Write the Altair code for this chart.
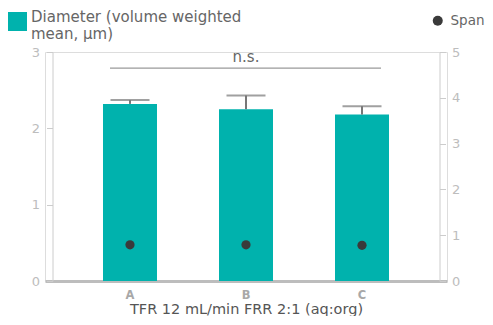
import altair as alt
import pandas as pd

# ---- data ----
groups = ["A", "B", "C"]
diameter = [2.32, 2.25, 2.18]          # volume weighted mean, µm (left axis)
diameter_upper = [2.37, 2.43, 2.29]    # top of error bar
span = [0.79, 0.79, 0.78]              # right axis
left_ticks = [0, 1, 2, 3]
right_ticks = [0, 1, 2, 3, 4, 5]
ns_from = ["A"]
ns_to = ["C"]
ns_level = [2.79]
ns_text_level = [2.93]
ns_mid = ["B"]
ns_label = ["n.s."]
diam_series = "Diameter (volume weighted mean, µm)"
span_series = "Span"
x_title = "TFR 12 mL/min FRR 2:1 (aq:org)"

TEAL = "#00b2ad"
DARK = "#3a3a3a"
FONT = "DejaVu Sans"

df = pd.DataFrame({
    "group": groups,
    "diameter": diameter,
    "upper": diameter_upper,
    "span": span,
    "dseries": [diam_series] * len(groups),
    "sseries": [span_series] * len(groups),
})
ns_df = pd.DataFrame({"x1": ns_from, "x2": ns_to, "lvl": ns_level,
                      "tl": ns_text_level, "mid": ns_mid, "lab": ns_label})

xscale = alt.Scale(domain=groups, paddingInner=0.5345, paddingOuter=0.5)
xaxis = alt.Axis(title=x_title, labelAngle=0, ticks=False, domainColor="#bdbdbd",
                 domainWidth=3, labelColor="#a8a8a8", labelFontWeight="bold",
                 labelFontSize=11.5, labelPadding=8.5, titleColor="#555555",
                 titleFontSize=14.5, titleFontWeight="normal", titlePadding=1.5)
yleft = alt.Scale(domain=[0, 3])
yright = alt.Scale(domain=[0, 5])
laxis = alt.Axis(values=left_ticks, format="d", title=None, offset=-7.5, grid=False,
                 domainColor="#cccccc", tickColor="#cccccc", tickSize=6,
                 labelColor="#bdbdbd", labelFontSize=13, labelPadding=7)
raxis = alt.Axis(values=right_ticks, format="d", title=None, orient="right", offset=-7.5,
                 grid=False, domainColor="#cccccc", tickColor="#cccccc",
                 tickSize=6, labelColor="#bdbdbd", labelFontSize=13, labelPadding=6)

base = alt.Chart(df)

bars = base.mark_bar(size=54).encode(
    x=alt.X("group:N", scale=xscale, axis=xaxis),
    y=alt.Y("diameter:Q", scale=yleft, axis=laxis),
    color=alt.Color("dseries:N", scale=alt.Scale(range=[TEAL]),
                    legend=alt.Legend(title=None, orient="none", legendX=-37, legendY=-40,
                                      symbolType="square", symbolSize=361,
                                      symbolStrokeWidth=0, padding=0,
                                      labelExpr="[substring(datum.label, 0, 25), substring(datum.label, 26)]",
                                      labelFontSize=15, labelColor="#666666",
                                      labelLimit=400, labelBaseline="alphabetic",
                                      labelOffset=4)),
)
err_rule = base.mark_rule(color="#777777", strokeWidth=2).encode(
    x="group:N", y="diameter:Q", y2="upper:Q")
err_cap = base.mark_tick(color="#777777", thickness=2, size=39).encode(
    x="group:N", y="upper:Q")

ns_rule = alt.Chart(ns_df).mark_rule(color="#9a9a9a", strokeWidth=1.2,
                                     xOffset=-20, x2Offset=19).encode(
    x="x1:N", x2="x2:N", y="lvl:Q")
ns_txt = alt.Chart(ns_df).mark_text(fontSize=15, color="#666666", baseline="middle").encode(
    x="mid:N", y="tl:Q", text="lab:N")

left = alt.layer(bars, err_rule, err_cap, ns_rule, ns_txt)

points = base.mark_point(filled=True, color=DARK, size=85, opacity=1).encode(
    x="group:N",
    y=alt.Y("span:Q", scale=yright, axis=raxis),
    shape=alt.Shape("sseries:N", scale=alt.Scale(range=["circle"]),
                    legend=alt.Legend(title=None, orient="none", legendX=386, legendY=-38,
                                      symbolSize=100, symbolFillColor=DARK,
                                      symbolStrokeWidth=0, padding=0,
                                      labelFontSize=13.5, labelColor="#666666",
                                      labelOffset=6)),
)

chart = alt.layer(left, points).resolve_scale(y="independent").properties(
    width=402, height=229, padding={"left": 0, "top": 4, "right": 0, "bottom": 0}
).configure_view(stroke=None).configure(font=FONT)

chart.save("out.html", embed_options={"renderer": "svg", "actions": False})
